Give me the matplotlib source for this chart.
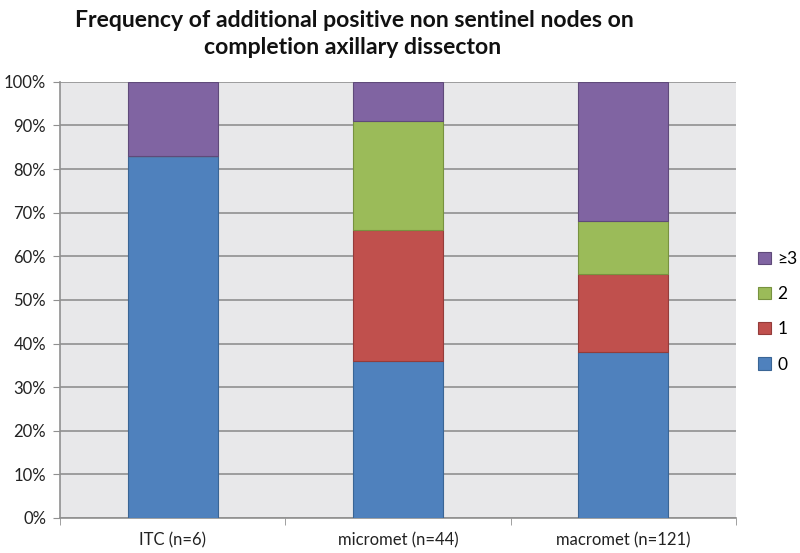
import numpy as np
import matplotlib.pyplot as plt
from matplotlib.ticker import PercentFormatter

categories = ['ITC (n=6)', 'micromet (n=44)', 'macromet (n=121)']
series_names = ['0', '1', '2', '≥3']
pct_0 = [83, 36, 38]
pct_1 = [0, 30, 18]
pct_2 = [0, 25, 12]
pct_3 = [17, 9, 32]
colors = ['#4f81bd', '#c0504d', '#9bbb59', '#8064a2']
edges = ['#3a6595', '#943c3a', '#77923f', '#5f4a7a']

plt.rcParams['font.family'] = ['Lato', 'DejaVu Sans']

fig = plt.figure(figsize=(8, 5.53), dpi=100)
ax = fig.add_axes([0.075, 0.0633, 0.845, 0.7887])
ax.set_facecolor('#e8e8ea')

x = np.arange(len(categories))
bottom = np.zeros(len(categories))
handles = []
for vals, name, c, ec in zip([pct_0, pct_1, pct_2, pct_3], series_names, colors, edges):
    vals = np.array(vals, dtype=float)
    b = ax.bar(x, vals, 0.4, bottom=bottom, color=c, edgecolor=ec, linewidth=0.8, label=name, zorder=3)
    handles.append(b)
    bottom += vals

ax.set_xlim(-0.5, 2.5)
ax.set_ylim(0, 100)
ax.set_yticks(np.arange(0, 101, 10))
ax.yaxis.set_major_formatter(PercentFormatter(decimals=0))
ax.grid(axis='y', color='#909090', linewidth=1.2, zorder=1)
ax.set_xticks(x)
ax.set_xticklabels(categories)
ax.set_xticks([-0.5, 0.5, 1.5, 2.5], minor=True)
ax.tick_params(axis='x', which='major', length=0, pad=10, labelsize=12, colors='#222222')
ax.tick_params(axis='x', which='minor', length=5, color='#909090')
ax.tick_params(axis='y', length=5, color='#909090', labelsize=12, labelcolor='#222222', pad=5)
for s in ['top', 'right']:
    ax.spines[s].set_visible(False)
for s in ['left', 'bottom']:
    ax.spines[s].set_color('#909090')
    ax.spines[s].set_linewidth(1.2)

leg = fig.legend(handles[::-1], series_names[::-1], loc='center left', bbox_to_anchor=(0.948, 0.436),
                 frameon=False, fontsize=12.5, handlelength=0.7, handleheight=0.7,
                 handletextpad=0.4, labelspacing=1.1, borderpad=0, borderaxespad=0)

fig.text(0.443, 0.963, 'Frequency of additional positive non sentinel nodes on', ha='center', va='center',
         fontsize=16.6, fontweight='bold', color='#111111')
fig.text(0.441, 0.914, 'completion axillary dissecton', ha='center', va='center',
         fontsize=16.6, fontweight='bold', color='#111111')

fig.savefig('out.png', dpi=100)
